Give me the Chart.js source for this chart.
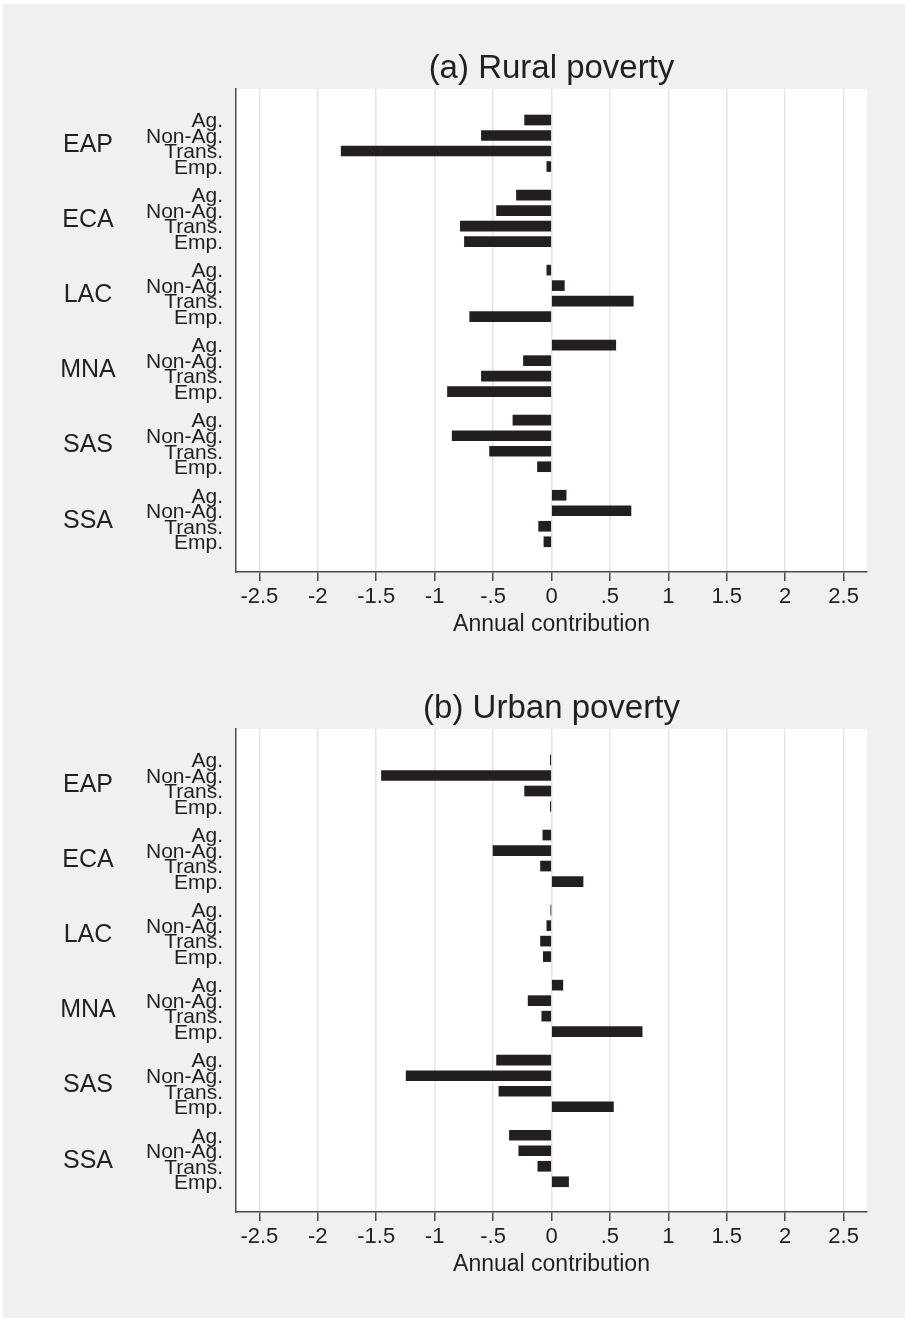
<!DOCTYPE html>
<html>
<head>
<meta charset="utf-8">
<script src="https://cdn.jsdelivr.net/npm/chart.js@4"></script>
<style>
  body { margin: 0; background: #ffffff; }
  #bg { position: absolute; left: 3px; top: 4px; width: 902px; height: 1314px; background: #eff0f2; }
  .panel { position: absolute; left: 0; width: 905px; height: 640px; }
</style>
</head>
<body>
<div id="bg"></div>
<div class="panel" style="top:0px"><canvas id="ruralChart" width="905" height="640"></canvas></div>
<div class="panel" style="top:640px"><canvas id="urbanChart" width="905" height="640"></canvas></div>
<script>
var regions = ['EAP', 'ECA', 'LAC', 'MNA', 'SAS', 'SSA'];
var sectors = ['Ag.', 'Non-Ag.', 'Trans.', 'Emp.'];
var xTicks = [-2.5, -2, -1.5, -1, -0.5, 0, 0.5, 1, 1.5, 2, 2.5];

// annual contribution per region, in sector order
var ruralValues = [
    [-0.23, -0.60, -1.80, -0.04],
    [-0.30, -0.47, -0.78, -0.745],
    [-0.04, 0.11, 0.70, -0.70],
    [0.55, -0.24, -0.60, -0.89],
    [-0.33, -0.85, -0.53, -0.12],
    [0.125, 0.68, -0.11, -0.065]
];
var urbanValues = [
    [-0.01, -1.455, -0.23, -0.01],
    [-0.074, -0.50, -0.094, 0.27],
    [-0.005, -0.04, -0.094, -0.07],
    [0.097, -0.20, -0.083, 0.776],
    [-0.47, -1.244, -0.45, 0.53],
    [-0.36, -0.28, -0.117, 0.146]
];

var groupStep = 4.84;
var ink = '#231f20';
var fontName = '"Liberation Sans", Arial, Helvetica, sans-serif';

function rowPos(g, i){
    return g * groupStep + i;
}

var rowPositions = [];
regions.forEach(function(r, g){
    sectors.forEach(function(s, i){
        rowPositions.push(rowPos(g, i));
    });
});

function fmtTick(v){
    var s = String(v);
    return s.replace(/^0\./, '.').replace(/^-0\./, '-.');
}

var panelPlugin = {
    id: 'panelDecor',
    beforeDraw: function(chart){
        var a = chart.chartArea, ctx = chart.ctx;
        ctx.save();
        ctx.fillStyle = '#ffffff';
        ctx.fillRect(a.left, a.top, a.right - a.left, a.bottom - a.top);
        ctx.restore();
    },
    afterDraw: function(chart){
        var a = chart.chartArea, ctx = chart.ctx;
        var yScale = chart.scales.y;
        ctx.save();
        ctx.fillStyle = ink;
        ctx.textAlign = 'center';
        ctx.textBaseline = 'alphabetic';
        ctx.font = '33px ' + fontName;
        ctx.fillText(chart.options.plugins.panelDecor.title, (a.left + a.right) / 2, 78);
        ctx.font = '25px ' + fontName;
        regions.forEach(function(r, g){
            var y = yScale.getPixelForValue(rowPos(g, 1.5));
            ctx.fillText(r, 88, y + 9);
        });
        ctx.restore();
    }
};

function showChart(canvasId, values, title){
    var points = [];
    values.forEach(function(vals, g){
        vals.forEach(function(v, i){
            points.push({ x: v, y: rowPos(g, i) });
        });
    });

    var ctx = document.getElementById(canvasId).getContext('2d');
    return new Chart(ctx, {
        type: 'bar',
        data: {
            datasets: [{
                data: points,
                backgroundColor: ink,
                borderWidth: 0,
                barThickness: 10
            }]
        },
        plugins: [panelPlugin],
        options: {
            indexAxis: 'y',
            responsive: false,
            animation: false,
            layout: { padding: { top: 89, right: 38, bottom: 0, left: 0 } },
            plugins: {
                legend: { display: false },
                tooltip: { enabled: false },
                panelDecor: { title: title }
            },
            scales: {
                x: {
                    type: 'linear',
                    min: -2.7,
                    max: 2.7,
                    afterBuildTicks: function(scale){
                        scale.ticks = xTicks.map(function(v){ return { value: v }; });
                    },
                    afterFit: function(scale){ scale.height = 68; },
                    ticks: {
                        color: ink,
                        font: { family: fontName, size: 22 },
                        padding: 3,
                        maxRotation: 0,
                        autoSkip: false,
                        callback: function(v){ return fmtTick(v); }
                    },
                    grid: {
                        color: '#e3e4e6',
                        lineWidth: 1.5,
                        tickColor: '#4a4a4a',
                        tickLength: 9
                    },
                    border: { color: '#4a4a4a', width: 1.5 },
                    title: {
                        display: true,
                        text: 'Annual contribution',
                        color: ink,
                        font: { family: fontName, size: 23 },
                        padding: { top: 0, bottom: 2 }
                    }
                },
                y: {
                    type: 'linear',
                    reverse: true,
                    offset: false,
                    min: -2,
                    max: 29.15,
                    afterBuildTicks: function(scale){
                        scale.ticks = rowPositions.map(function(v){ return { value: v }; });
                    },
                    afterFit: function(scale){ scale.width = 236; },
                    ticks: {
                        color: ink,
                        font: { family: fontName, size: 21, lineHeight: 1 },
                        padding: 13,
                        labelOffset: 1.5,
                        autoSkip: false,
                        callback: function(v, idx){ return sectors[idx % 4]; }
                    },
                    grid: { drawOnChartArea: false, drawTicks: false, offset: false },
                    border: { color: '#4a4a4a', width: 1.5 }
                }
            }
        }
    });
}

window.onload = function(){
    showChart('ruralChart', ruralValues, '(a) Rural poverty');
    showChart('urbanChart', urbanValues, '(b) Urban poverty');
};
</script>
</body>
</html>
